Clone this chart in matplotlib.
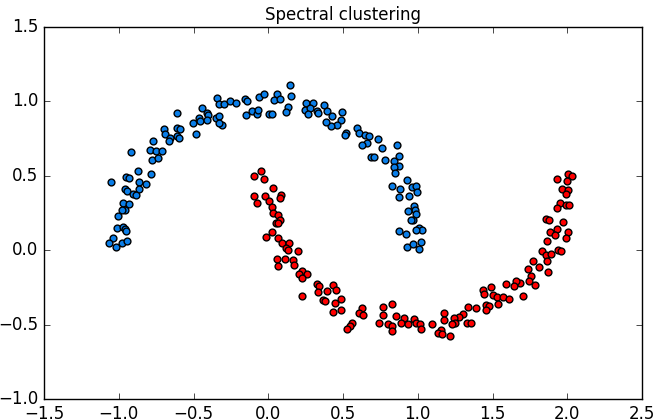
import matplotlib
matplotlib.use("Agg")
import matplotlib.pyplot as plt

plt.style.use("classic")

# cluster 0 (upper moon)
blue_x = [-0.342, -0.327, -0.298, -0.254, -0.215, -0.155, -0.144, -0.062, -0.030,
          -0.146, -0.107, -0.077, -0.071, -0.608, -0.445, -0.411, -0.400, -0.463,
          -0.501, -0.456, -0.409, -0.352, -0.327, -0.312, -0.331, -0.484, -0.699,
          -0.688, -0.658, -0.662, -0.613, -0.590, -0.611, -0.595, -0.770, -0.918,
          -0.791, -0.749, -0.712, -0.775, -0.738, -0.873, -0.785, -0.951, -0.933,
          -1.052, -0.862, -0.817, -0.961, -0.947, -0.866, -0.905, -0.886, -0.974,
          -0.931, -0.961, -0.980, -1.005, -1.013, -0.970, -0.955, -0.951, -1.041,
          -1.065, -1.018, -0.976, -0.944,
          0.056, 0.039, 0.079, 0.146, 0.150, 0.134, 0.119, 0.007, 0.023, 0.250,
          0.297, 0.246, 0.279, 0.268, 0.324, 0.335, 0.373, 0.395, 0.424, 0.491,
          0.484, 0.462, 0.417, 0.387, 0.520, 0.514, 0.592, 0.607, 0.647, 0.674,
          0.663, 0.624, 0.732, 0.763, 0.859, 0.685, 0.708, 0.779, 0.843, 0.877,
          0.877, 0.843, 0.848, 0.931, 0.826, 0.882, 0.959, 0.986, 0.993, 0.875,
          0.942, 0.975, 0.981, 0.937, 0.988, 0.970, 0.953, 0.877, 0.919, 1.009,
          1.030, 0.988, 0.931, 0.970, 1.022, 1.011]
blue_y = [1.019, 0.979, 0.979, 1.000, 0.986, 1.015, 1.002, 1.026, 1.048,
          0.907, 0.934, 0.912, 0.944, 0.919, 0.956, 0.919, 0.907, 0.885,
          0.855, 0.866, 0.874, 0.889, 0.902, 0.840, 0.855, 0.780, 0.811,
          0.780, 0.755, 0.735, 0.824, 0.813, 0.768, 0.755, 0.737, 0.657,
          0.672, 0.665, 0.665, 0.609, 0.620, 0.533, 0.511, 0.493, 0.488,
          0.459, 0.459, 0.448, 0.412, 0.397, 0.410, 0.381, 0.368, 0.320,
          0.314, 0.269, 0.273, 0.233, 0.150, 0.157, 0.146, 0.128, 0.085,
          0.052, 0.022, 0.049, 0.060,
          1.048, 1.008, 1.013, 1.109, 1.037, 0.963, 0.930, 0.914, 0.914, 0.990,
          0.990, 0.944, 0.952, 0.914, 0.936, 0.923, 0.972, 0.936, 0.902, 0.925,
          0.874, 0.840, 0.836, 0.862, 0.784, 0.773, 0.818, 0.784, 0.773, 0.766,
          0.721, 0.706, 0.746, 0.690, 0.710, 0.623, 0.627, 0.609, 0.600, 0.632,
          0.567, 0.556, 0.520, 0.475, 0.430, 0.414, 0.426, 0.432, 0.390, 0.358,
          0.365, 0.296, 0.269, 0.264, 0.246, 0.206, 0.206, 0.130, 0.108, 0.152,
          0.134, 0.134, 0.022, 0.045, 0.056, 0.007]

# cluster 1 (lower moon)
red_x = [-0.093, -0.049, -0.026, -0.093, -0.073, -0.022, 0.030, 0.084, 0.079,
         0.007, 0.023, 0.034, 0.067, 0.079, 0.052, 0.067, -0.017, 0.027, 0.063,
         0.094, 0.141, 0.119, 0.134, 0.196, 0.056, 0.112, 0.168, 0.172, 0.063,
         0.224, 0.208, 0.257, 0.228, 0.324, 0.342, 0.335, 0.396, 0.435, 0.454,
         0.228, 0.364, 0.379, 0.447, 0.486, 0.486, 0.435, 0.626, 0.607, 0.632,
         0.558, 0.547, 0.529, 0.770, 0.830, 0.766, 0.852, 0.908, 0.977, 0.740,
         0.799, 0.830, 0.826, 0.888, 0.937, 0.986, 1.015, 1.020,
         1.930, 2.005, 2.034, 1.996, 1.967, 2.005, 1.990, 1.951, 1.990, 2.013,
         1.933, 1.856, 1.880, 1.970, 1.933, 1.884, 1.918, 2.003, 1.992, 1.863,
         1.936, 1.956, 1.833, 1.856, 1.891, 1.866, 1.772, 1.811, 1.740, 1.869,
         1.757, 1.744, 1.785, 1.684, 1.655, 1.646, 1.590, 1.706, 1.488, 1.439,
         1.445, 1.506, 1.532, 1.568, 1.611, 1.538, 1.456, 1.478, 1.454, 1.338,
         1.390, 1.305, 1.278, 1.245, 1.176, 1.178, 1.249, 1.227, 1.327, 1.356,
         1.093, 1.155, 1.138, 1.164, 1.216]
red_y = [0.502, 0.533, 0.477, 0.367, 0.318, 0.367, 0.419, 0.374, 0.354,
         0.331, 0.291, 0.253, 0.235, 0.206, 0.186, 0.186, 0.089, 0.123, 0.083,
         0.052, 0.052, 0.016, 0.000, -0.004, -0.060, -0.060, -0.063, -0.101, -0.108,
         -0.141, -0.157, -0.157, -0.184, -0.228, -0.242, -0.280, -0.276, -0.231, -0.264,
         -0.309, -0.331, -0.343, -0.352, -0.325, -0.399, -0.415, -0.388, -0.419, -0.432,
         -0.486, -0.509, -0.531, -0.381, -0.363, -0.437, -0.441, -0.455, -0.464, -0.488,
         -0.497, -0.509, -0.542, -0.488, -0.493, -0.488, -0.497, -0.526,
         0.479, 0.515, 0.497, 0.464, 0.410, 0.408, 0.381, 0.318, 0.307, 0.302,
         0.287, 0.213, 0.206, 0.190, 0.146, 0.123, 0.105, 0.123, 0.083, 0.063,
         0.000, -0.007, -0.007, -0.034, -0.022, -0.072, -0.074, -0.112, -0.128, -0.146,
         -0.175, -0.206, -0.231, -0.217, -0.206, -0.240, -0.224, -0.309, -0.247, -0.264,
         -0.291, -0.302, -0.314, -0.314, -0.329, -0.363, -0.365, -0.374, -0.399, -0.381,
         -0.385, -0.430, -0.448, -0.452, -0.419, -0.466, -0.486, -0.493, -0.486, -0.486,
         -0.493, -0.533, -0.553, -0.565, -0.578]

fig = plt.figure(figsize=(6.53, 4.19), dpi=100, facecolor="white")
ax = fig.add_axes([0.0674, 0.047, 0.9158, 0.889])

ax.scatter(blue_x, blue_y, s=24, c="#0a7ee8", edgecolors="black", linewidths=1)
ax.scatter(red_x, red_y, s=24, c="#ff0000", edgecolors="black", linewidths=1)

ax.set_xlim(-1.5, 2.5)
ax.set_ylim(-1.0, 1.5)
ax.set_title("Spectral clustering", fontsize=12)

fig.savefig("out.png", dpi=100, facecolor="white")
